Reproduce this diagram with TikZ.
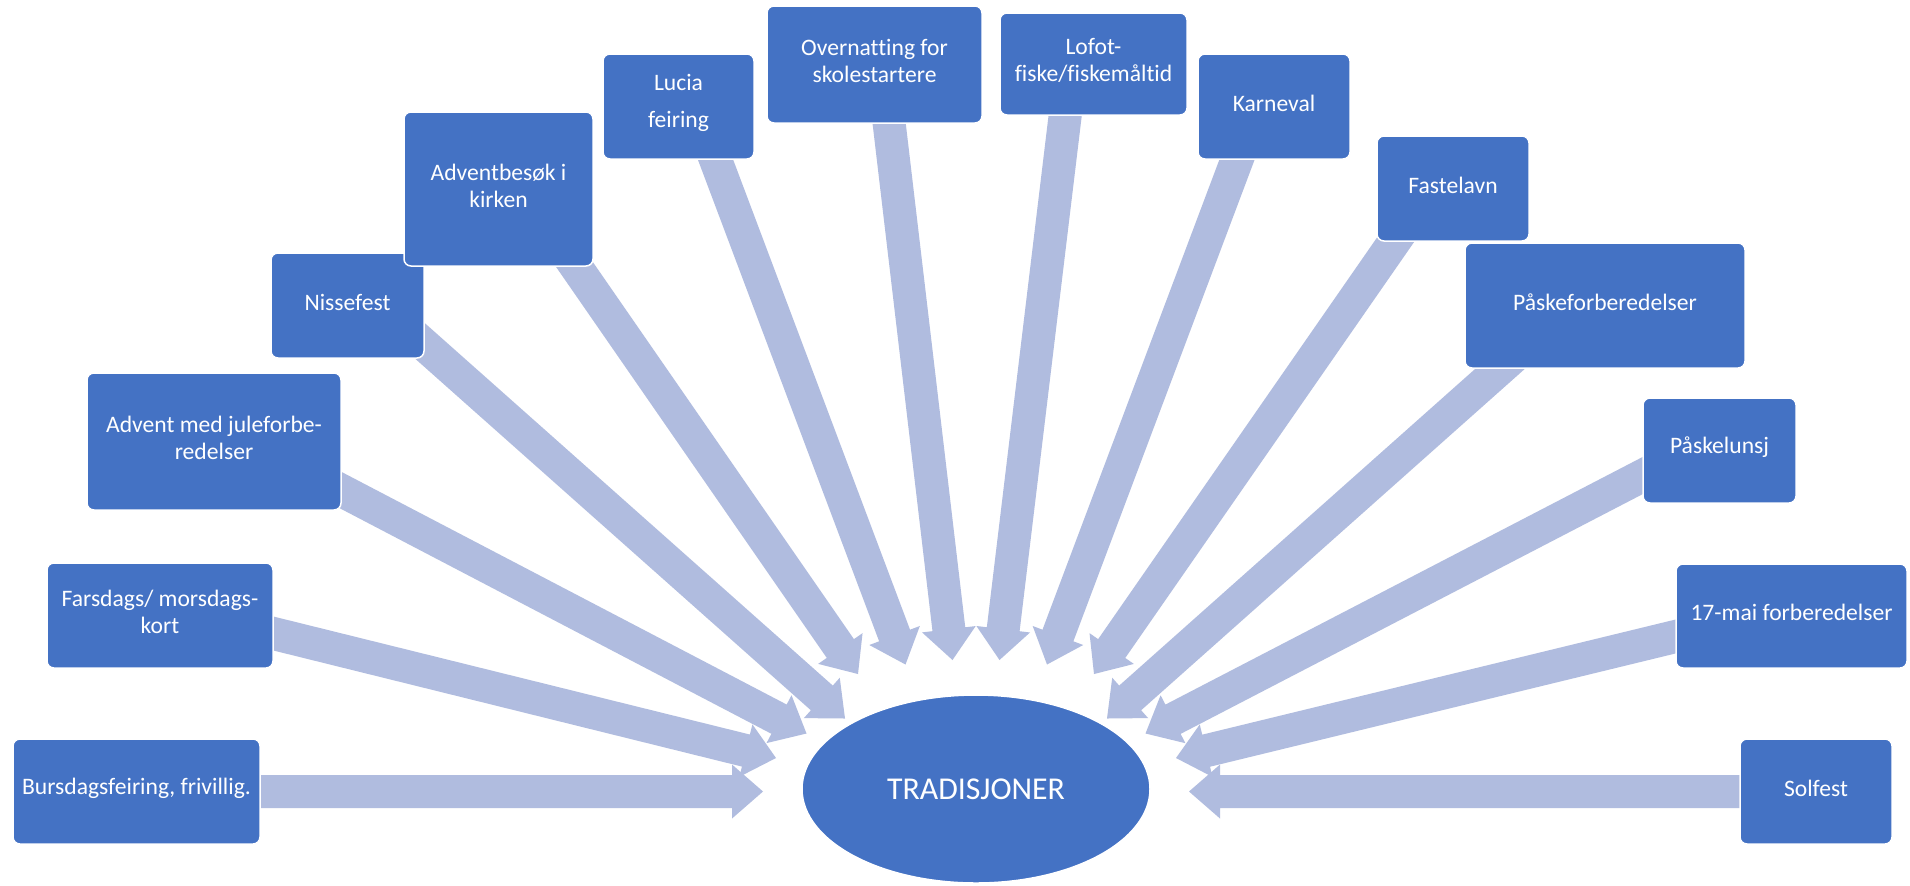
\documentclass[tikz,border=0pt]{standalone}
\usepackage{fontspec}
\setmainfont{Carlito}[Ligatures=CommonOff]
\usetikzlibrary{calc,shapes.geometric,backgrounds}

\definecolor{boxblue}{RGB}{68,114,196}
\definecolor{spokeblue}{RGB}{176,188,223}

\tikzset{
  boxdim/.style 2 args={minimum width=#1*0.5pt, minimum height=#2*0.5pt},
  item/.style={rectangle, rounded corners=3.5pt, draw=white, line width=0.75pt, fill=boxblue,
    inner sep=0pt, outer sep=0pt},
  itemtext/.style={text=white, align=center, inner sep=0pt, yshift=1.75pt,
    font=\fontsize{11.8}{13.4}\selectfont},
  hub/.style={ellipse, draw=white, line width=0.75pt, fill=boxblue, text=white,
    inner sep=0pt, outer sep=0pt, minimum width=174pt, minimum height=94pt,
    font=\fontsize{15.9}{19}\selectfont},
  spokefill/.style={fill=spokeblue}
}

% block arrow from #1 (box anchor) to #2 (tip)
\newcommand{\spoke}[2]{%
  \coordinate (s0) at ($(#1)!-12pt!(#2)$);
  \coordinate (h0) at ($(#2)!15.5pt!(#1)$);
  \fill[spokefill] ($(s0)!8.25pt!90:(#2)$) -- ($(h0)!8.25pt!-90:(s0)$) -- ($(h0)!13.5pt!-90:(s0)$)
    -- (#2) -- ($(h0)!13.5pt!90:(s0)$) -- ($(h0)!8.25pt!90:(s0)$) -- ($(s0)!8.25pt!-90:(#2)$) -- cycle;
}

\begin{document}
\begin{tikzpicture}[x=0.5pt,y=0.5pt,yscale=-1]
\useasboundingbox (0,0) rectangle (1910,885);

% Boxes, left side
\node[item,boxdim={247}{105},label={[itemtext,name=burs-t]center:Bursdagsfeiring, frivillig.}] (burs) at (136.5,791.5) {};
\node[item,boxdim={226}{105},label={[itemtext,name=fars-t]center:Farsdags/ morsdags-\\kort}] (fars) at (160,615.5) {};
\node[item,boxdim={254}{137},label={[itemtext,name=advent-t]center:Advent med juleforbe-\\redelser}] (advent) at (214,441.5) {};
\node[item,boxdim={153}{105},label={[itemtext,name=nisse-t]center:Nissefest}] (nisse) at (347.5,305.5) {};
\node[item,boxdim={189}{154},label={[itemtext,name=besok-t]center:Adventbesøk i\\kirken}] (besok) at (498.5,189) {};
\node[item,boxdim={151}{105},label={[itemtext,name=lucia-t]center:Lucia\\[5pt]feiring}] (lucia) at (678.5,106.5) {};
\node[item,boxdim={215}{117},label={[itemtext,name=overn-t]center:Overnatting for\\skolestartere}] (overn) at (874.5,64.5) {};
% Boxes, right side
\node[item,boxdim={187}{102},label={[itemtext,name=lofot-t]center:Lofot-\\fiske/fiskemåltid}] (lofot) at (1093.5,64) {};
\node[item,boxdim={152}{105},label={[itemtext,name=karneval-t]center:Karneval}] (karneval) at (1274,106.5) {};
\node[item,boxdim={152}{105},label={[itemtext,name=fastelavn-t]center:Fastelavn}] (fastelavn) at (1453,188.5) {};
\node[item,boxdim={280}{125},label={[itemtext,name=paaskef-t]center:Påskeforberedelser}] (paaskef) at (1605,305.5) {};
\node[item,boxdim={153}{105},label={[itemtext,name=paaskel-t]center:Påskelunsj}] (paaskel) at (1719.5,450.5) {};
\node[item,boxdim={231}{104},label={[itemtext,name=mai-t]center:17-mai forberedelser}] (mai) at (1791.5,616) {};
\node[item,boxdim={152}{105},label={[itemtext,name=solfest-t]center:Solfest}] (solfest) at (1816,791.5) {};

% Centre
\node[hub] (trad) at (976,789) {TRADISJONER};

% Arrow tips
\coordinate (t1) at (763,791.5);
\coordinate (t2) at (776,758);
\coordinate (t3) at (806.5,733.5);
\coordinate (t4) at (845,718.5);
\coordinate (t5) at (858,674);
\coordinate (t6) at (905.5,664.5);
\coordinate (t7) at (952.5,660);
\coordinate (t8) at (999.5,660);
\coordinate (t9) at (1047,664.5);
\coordinate (t10) at (1094,674);
\coordinate (t11) at (1107,718.5);
\coordinate (t12) at (1145.5,733.5);
\coordinate (t13) at (1176,758);
\coordinate (t14) at (1189,791.5);

\begin{pgfonlayer}{background}
\fill[white] (0,0) rectangle (1910,885);
% Block arrows
\spoke{burs.east}{t1}
\spoke{fars.-9.8}{t2}
\spoke{advent.-21.5}{t3}
\spoke{nisse.-27.9}{t4}
\spoke{besok.-45.6}{t5}
\spoke{lucia.-55.2}{t6}
\spoke{overn.-76.8}{t7}
\spoke{lofot.-119.2}{t8}
\spoke{karneval.-125.9}{t9}
\spoke{fastelavn.-138.3}{t10}
\spoke{paaskef.-149.7}{t11}
\spoke{paaskel.-162.9}{t12}
\spoke{mai.-170.2}{t13}
\spoke{solfest.west}{t14}
\end{pgfonlayer}
\end{tikzpicture}
\end{document}
